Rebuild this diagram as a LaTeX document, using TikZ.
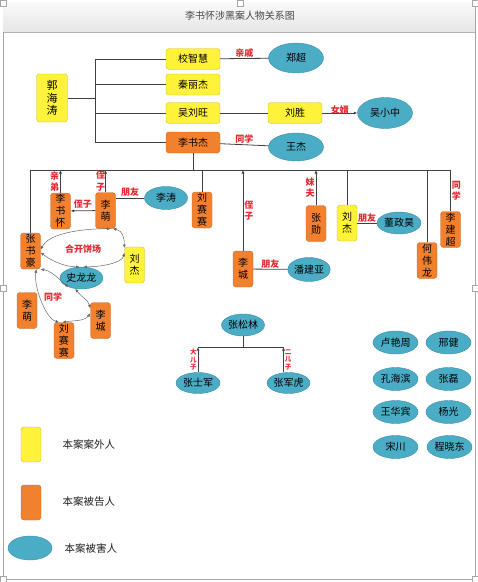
\documentclass[tikz,border=0pt]{standalone}
\usepackage{fontspec}
\setmainfont{Noto Sans CJK SC}
\usetikzlibrary{shapes.geometric, arrows.meta}

\definecolor{huang}{HTML}{FFF23A}
\definecolor{huangbian}{HTML}{CDBE2A}
\definecolor{cheng}{HTML}{F2812F}
\definecolor{chengbian}{HTML}{C9692A}
\definecolor{lan}{HTML}{4BACC6}
\definecolor{lanbian}{HTML}{3A8EA6}
\definecolor{hong}{HTML}{E3262F}
\definecolor{xianse}{HTML}{404040}

\begin{document}
\begin{tikzpicture}[x=1pt, y=-1pt,
  >={Latex[length=3.5pt, width=3pt]},
  wai/.style={draw=huangbian, fill=huang, rounded corners=3pt, inner sep=0pt,
    align=center, font=\fontsize{10}{12}\selectfont},
  gao/.style={draw=chengbian, fill=cheng, rounded corners=3pt, inner sep=0pt,
    align=center, font=\fontsize{10}{12}\selectfont},
  hai/.style={ellipse, draw=lanbian, fill=lan, inner sep=0pt,
    minimum width=44, minimum height=23, font=\fontsize{10}{12}\selectfont},
  heng/.style={minimum width=54, minimum height=21},
  shu/.style={minimum width=20, minimum height=36},
  xian/.style={draw=xianse, line width=0.8pt},
  huan/.style={draw=gray!80!black, line width=0.5pt, <->},
  guanxi/.style={text=hong, inner sep=1pt, align=center,
    font=\fontsize{9}{11.5}\selectfont\bfseries},
  shubing/.style={draw=gray!70, fill=white, line width=0.4pt}]

  \useasboundingbox (0,0) rectangle (478,582);

  % 外框和标题栏
  \draw[gray!70, line width=0.6pt] (3,2) rectangle (475,579);
  \shade[top color=gray!4, bottom color=gray!20] (3.3,2.3) rectangle (474.7,32);
  \draw[gray!60, line width=0.6pt] (3,32) -- (475,32);
  \node[text=gray!55!black, font=\fontsize{10}{12}\selectfont] (biaoti) at (240,16)
    {李书怀涉黑案人物关系图};
  \foreach \x/\y in {0/0, 237/0, 472/0, 0/285, 472/285, 0/576, 472/576}
    \draw[shubing] (\x,\y) rectangle +(6,6);

  % 郭海涛一支
  \node[wai, minimum width=31, minimum height=48, font=\fontsize{11}{12.5}\selectfont]
    (guo) at (52,98) {郭\\海\\涛};
  \node[wai, heng] (xiaozh) at (193,59) {校智慧};
  \node[wai, heng] (qinlj) at (193,84.5) {秦丽杰};
  \node[wai, heng] (wuliuw) at (193,113) {吴刘旺};
  \node[gao, heng] (lishuj) at (193,142.5) {李书杰};
  \node[hai, minimum width=55, minimum height=30] (zhengc) at (296,58) {郑超};
  \node[wai, heng] (lius) at (295,113) {刘胜};
  \node[hai, minimum width=55, minimum height=31] (wuxz) at (385,113) {吴小中};
  \node[hai, minimum width=55, minimum height=28] (wangj) at (296,147) {王杰};

  \coordinate (gx) at (95,0);
  \draw[xian] (guo.east) -- (guo.east -| gx);
  \draw[xian] (xiaozh.west -| gx) -- (lishuj.west -| gx);
  \foreach \n in {xiaozh, qinlj, wuliuw, lishuj}
    \draw[xian] (\n.west -| gx) -- (\n.west);
  \draw[xian] (xiaozh) -- (zhengc) node[guanxi, midway, above] {亲戚};
  \draw[xian] (wuliuw) -- (lius);
  \draw[xian, ->] (lius) -- (wuxz) node[guanxi, midway, above=-3pt] {女婿};
  \draw[xian] (lishuj) -- (wangj) node[guanxi, midway, above] {同学};

  % 李书杰下面一排
  \node[gao, shu] (lishuh) at (60.5,211) {李\\书\\怀};
  \node[gao, shu] (limeng) at (105.5,210.5) {李\\萌};
  \node[hai, minimum width=43] (litao) at (166,198) {李涛};
  \node[gao, shu] (liuss) at (202,210) {刘\\赛\\赛};
  \node[gao, shu] (zhangsh) at (30.5,251) {张\\书\\豪};
  \node[wai, shu] (liujie) at (134.5,265) {刘\\杰};
  \node[hai, minimum width=43, minimum height=22] (shill) at (81.5,278) {史龙龙};
  \node[gao, shu] (limeng2) at (27,310.5) {李\\萌};
  \node[gao, shu] (liuss2) at (64,340.5) {刘\\赛\\赛};
  \node[gao, shu] (licheng2) at (100.5,320.5) {李\\城};
  \node[gao, shu] (licheng) at (243,269) {李\\城};
  \node[hai, minimum width=42, minimum height=24] (panjy) at (309,269.5) {潘建亚};
  \node[gao, shu] (zhangx) at (316,223.5) {张\\勋};
  \node[wai, shu] (liujie2) at (347,223) {刘\\杰};
  \node[hai, minimum height=22] (dongzh) at (399,223) {董政昊};
  \node[gao, shu] (hewl) at (427,260.5) {何\\伟\\龙};
  \node[gao, shu] (lijc) at (450.5,229.5) {李\\建\\超};

  \coordinate (hx) at (0,170);
  \draw[xian] (lishuj.south) -- (lishuj.south |- hx);
  \draw[xian] (zhangsh.north |- hx) -- (lijc.north |- hx);
  \draw[xian] (zhangsh.north) -- (zhangsh.north |- hx);
  \draw[xian, ->] (lishuh.north) -- (lishuh.north |- hx)
    node[guanxi, midway, left] {亲\\弟};
  \draw[xian, ->] (limeng.north) -- (limeng.north |- hx)
    node[guanxi, midway, left=-1pt] {侄\\子};
  \draw[xian] (liuss.north) -- (liuss.north |- hx);
  \draw[xian, ->] (licheng.north) -- (licheng.north |- hx)
    node[guanxi, midway, right] {侄\\子};
  \draw[xian, ->] (zhangx.north) -- (zhangx.north |- hx)
    node[guanxi, midway, left] {妹\\夫};
  \draw[xian] (liujie2.north) -- (liujie2.north |- hx);
  \draw[xian] (hewl.north) -- (hewl.north |- hx);
  \draw[xian] (lijc.north) -- (lijc.north |- hx)
    node[guanxi, midway, right] {同\\学};

  \draw[xian, ->] (limeng) -- (lishuh) node[guanxi, midway, above=1pt] {侄子};
  \draw[xian] (litao.west -| limeng.east) -- (litao.west)
    node[guanxi, midway, above] {朋友};
  \draw[xian] (licheng) -- (panjy) node[guanxi, midway, above=-1pt] {朋友};
  \draw[xian] (liujie2) -- (dongzh) node[guanxi, midway, above=-1pt] {朋友};

  % 合开饼场
  \draw[huan] (zhangsh.8) .. controls +(8,-16) and +(-30,0) .. (limeng.-75);
  \draw[huan] (limeng.-68) .. controls +(10,2) and +(0,-10) .. (liujie.121);
  \draw[huan] (liujie.130) .. controls +(-2,10) and +(18,0) .. (shill.80);
  \draw[huan] (shill.100) .. controls +(-15,0) and +(10,8) .. (zhangsh.-8);
  \node[guanxi] (hekai) at (83,249) {合开饼场};

  % 同学圈
  \draw[huan] (zhangsh.-72) .. controls +(-3,16) and +(-14,-4) .. (liuss2.105);
  \draw[huan] (zhangsh.south east) .. controls +(12,2) and +(-8,-6) .. (shill.215);
  \draw[huan] (shill.240) .. controls +(6,8) and +(-2,-8) .. (licheng2.130);
  \draw[huan] (licheng2.145) .. controls +(-6,8) and +(12,-2) .. (liuss2.95);
  \node[guanxi] (tongxue) at (53,297) {同学};

  % 张松林一家
  \node[hai, minimum width=43, minimum height=22] (zhangsl) at (243,325) {张松林};
  \node[hai, minimum height=21] (zhangsj) at (198,383) {张士军};
  \node[hai, minimum width=43, minimum height=21] (zhangjh) at (288.5,383) {张军虎};
  \coordinate (fx) at (0,347);
  \draw[xian] (zhangsl.south) -- (zhangsl.south |- fx);
  \draw[xian] (zhangsj.north |- fx) -- ([xshift=-5pt]zhangjh.north |- fx);
  \draw[xian, ->] (zhangsj.north) -- (zhangsj.north |- fx)
    node[guanxi, midway, left, font=\fontsize{6.5}{7.5}\selectfont\bfseries] {大\\儿\\子};
  \draw[xian, ->] ([xshift=-5pt]zhangjh.north) -- ([xshift=-5pt]zhangjh.north |- fx)
    node[guanxi, midway, right, font=\fontsize{6.5}{7.5}\selectfont\bfseries] {二\\儿\\子};

  % 其余被害人
  \node[hai, minimum width=45] (luyz) at (395.5,342.5) {卢艳周};
  \node[hai, minimum width=45] (xingj) at (448.5,342.5) {邢健};
  \node[hai, minimum width=45] (konghb) at (395.5,379) {孔海滨};
  \node[hai, minimum width=45] (zhangl) at (448.5,379) {张磊};
  \node[hai, minimum width=45] (wanghb) at (395.5,412) {王华宾};
  \node[hai, minimum width=45] (yangg) at (448.5,412) {杨光};
  \node[hai, minimum width=45] (songc) at (395.5,447) {宋川};
  \node[hai, minimum width=45] (chengxd) at (449.5,447) {程晓东};

  % 图例
  \node[wai, minimum width=20, minimum height=35] (tl1) at (31,444.5) {};
  \node[gao, minimum width=20, minimum height=35] (tl2) at (31,502.5) {};
  \node[hai, minimum height=24] (tl3) at (30,548) {};
  \node[anchor=west, text=gray!25!black, font=\fontsize{10.5}{12}\selectfont]
    at (59,444) {本案案外人};
  \node[anchor=west, text=gray!25!black, font=\fontsize{10.5}{12}\selectfont]
    at (59,502) {本案被告人};
  \node[anchor=west, text=gray!25!black, font=\fontsize{10.5}{12}\selectfont]
    at (61,548) {本案被害人};
\end{tikzpicture}
\end{document}
